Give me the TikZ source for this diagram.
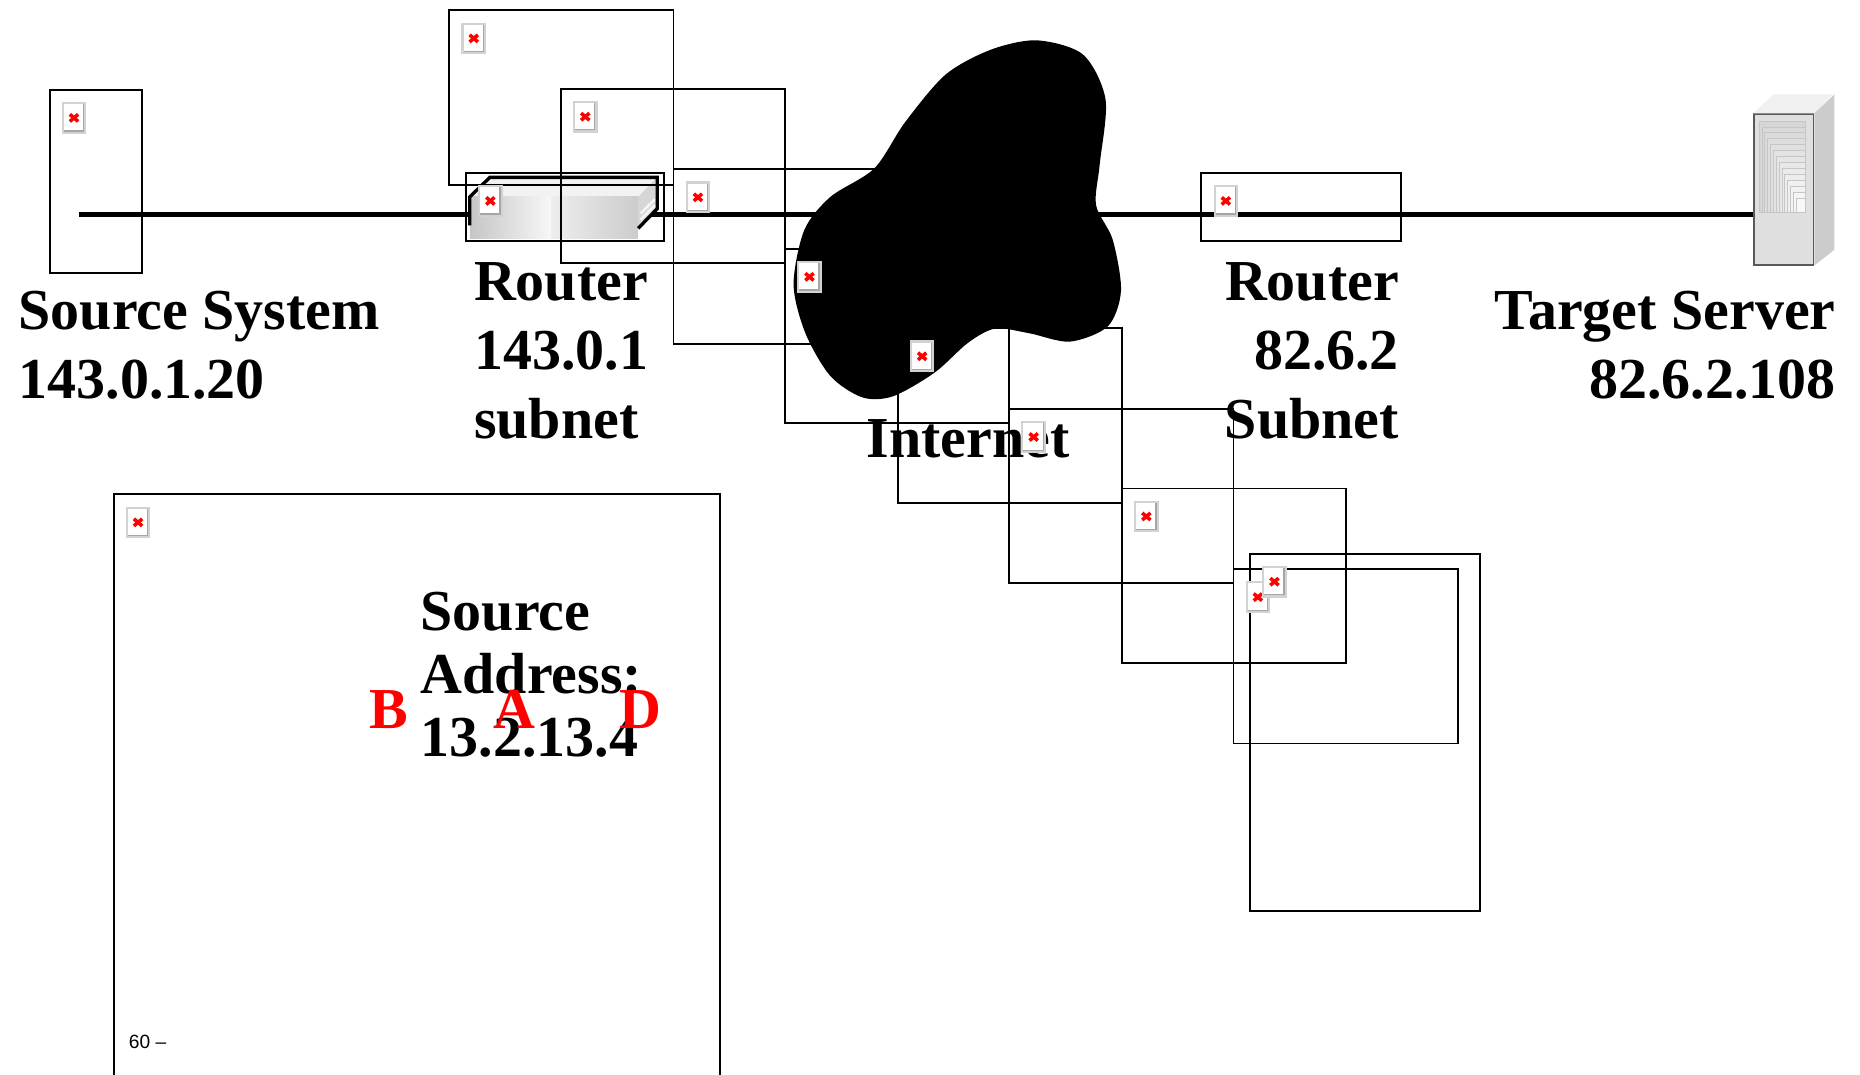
\documentclass[tikz,border=0pt]{standalone}
\usepackage{fontspec}
\setmainfont{Liberation Serif}
\setsansfont{Liberation Sans}
\usetikzlibrary{shapes,arrows}

\tikzset{
  slot/.style={draw, line width=0.45pt, anchor=north west, inner sep=0pt,
    minimum width=1.89cm, minimum height=1.47cm},
  noimg/.style={anchor=north west, inner sep=0pt, minimum width=0.19cm,
    minimum height=0.25cm, fill=white, draw=gray!35, line width=0.5pt,
    path picture={
      \draw[gray!70, line width=1.1pt] (path picture bounding box.north east)
        -- (path picture bounding box.south east) -- (path picture bounding box.south west);
      \draw[red, line width=0.85pt]
        ([shift={(-0.035,-0.03)}]path picture bounding box.center) -- ([shift={(0.035,0.03)}]path picture bounding box.center)
        ([shift={(-0.035,0.03)}]path picture bounding box.center) -- ([shift={(0.035,-0.03)}]path picture bounding box.center);
    }},
  lbl/.style={font=\fontsize{13.9}{16.6}\selectfont\bfseries, inner sep=0pt},
}

\begin{document}
\begin{tikzpicture}[y=-1cm]
\useasboundingbox (0,0) rectangle (15.68,9.06);

\node[draw=gray!70!black, fill=gray!25, line width=0.4pt, anchor=north west, inner sep=0pt,
  minimum width=0.50cm, minimum height=1.27cm] (server) at (14.78,0.955) {};
\fill[gray!12] (server.north west) -- ++(0.17,-0.16) -- ++(0.50,0) -- (server.north east) -- cycle;
\fill[gray!40] (server.north east) -- ++(0.17,-0.16) -- ++(0,1.31) -- (server.south east) -- cycle;
\foreach \i [evaluate=\i as \g using {int(32-2*\i)}] in {0,...,13}
  \filldraw[fill=gray!\g, draw=gray!45, line width=0.2pt]
    (14.83+0.024*\i, 1.02+0.05*\i) rectangle (15.22, 1.79);

\coordinate (lan) at (0.67,1.81);
\draw[line width=1.2pt] (lan) -- (lan -| server.west);

\fill[gray!10] (3.96,1.66) -- (4.13,1.495) -- (5.54,1.495) -- (5.38,1.66) -- cycle;
\shade[left color=gray!45, right color=gray!6] (3.96,1.66) rectangle (4.65,2.01);
\shade[left color=gray!14, right color=gray!40] (4.65,1.66) rectangle (5.38,2.01);
\fill[gray!32] (5.38,1.66) -- (5.54,1.495) -- (5.54,1.76) -- (5.38,1.925) -- cycle;
\draw[gray!8, line width=0.6pt] (5.40,1.80) -- (5.52,1.68) (5.40,1.85) -- (5.52,1.73);
\draw[line width=0.8pt] (3.96,1.90) -- (3.96,1.66) -- (4.13,1.495) -- (5.54,1.495) -- (5.54,1.76) -- (5.38,1.925);

\node[slot, minimum width=0.78cm, minimum height=1.54cm] (source) at (0.41,0.75) {};
\node[slot, minimum width=1.67cm, minimum height=0.57cm] (router143) at (3.92,1.45) {};
\node[slot, minimum width=1.68cm, minimum height=0.57cm] (router82) at (10.12,1.45) {};
\node[slot] (box1) at (3.78,0.08) {};
\node[slot] (box2) at (4.72,0.74) {};
\node[slot] (box3) at (5.67,1.42) {};
\node[slot] (box4) at (6.61,2.09) {};
\node[slot] (box5) at (7.56,2.76) {};
\node[slot] (box6) at (8.50,3.44) {};
\node[slot] (box7) at (9.45,4.11) {};
\node[slot] (box8) at (10.39,4.79) {};
\node[slot, minimum width=1.94cm, minimum height=3.01cm] (box9) at (10.53,4.66) {};
\node[slot, minimum width=5.11cm, minimum height=5.2cm] (panel) at (0.95,4.16) {};

\fill plot[smooth cycle] coordinates {(8.74,0.34) (9.13,0.46) (9.32,0.84) (9.27,1.39)
  (9.24,1.73) (9.38,2.02) (9.45,2.45) (9.34,2.75) (9.02,2.88) (8.68,2.81) (8.39,2.77)
  (8.16,2.89) (7.88,3.14) (7.53,3.34) (7.27,3.35) (7.00,3.17) (6.79,2.81) (6.69,2.40)
  (6.78,1.94) (7.00,1.66) (7.37,1.42) (7.63,1.03) (7.97,0.63) (8.35,0.42)};

\node[lbl, align=left, anchor=base west] (srclbl) at (0.15,3.36) {Source System\\143.0.1.20};
\node[lbl, align=left, anchor=base west] (r143lbl) at (3.99,3.70) {Router\\143.0.1\\subnet};
\node[lbl, anchor=base west] (internet) at (7.30,3.86) {Internet};
\node[lbl, align=right, anchor=base east] (r82lbl) at (11.80,3.70) {Router\\82.6.2\\Subnet};
\node[lbl, align=right, anchor=base east] (srvlbl) at (15.48,3.36) {Target Server\\82.6.2.108};
\node[lbl, font=\fontsize{13.9}{15.2}\selectfont\bfseries, align=left, anchor=base west]
  (addr) at (3.54,6.38) {Source\\Address:\\13.2.13.4};
\node[lbl, text=red, anchor=base] (B) at (3.28,6.14) {B};
\node[lbl, text=red, anchor=base] (A) at (4.34,6.14) {A};
\node[lbl, text=red, anchor=base] (D) at (5.40,6.14) {D};
\node[font=\fontsize{4.6}{5}\selectfont\sffamily, inner sep=0pt, anchor=base west] (page) at (1.08,8.84) {60 \textendash};

\node[noimg] (img0) at (0.52,0.86) {};
\node[noimg] (img1) at (3.89,0.19) {};
\node[noimg] (img2) at (4.83,0.85) {};
\node[noimg] (img3) at (4.03,1.56) {};
\node[noimg] (img4) at (5.78,1.53) {};
\node[noimg] (img5) at (6.72,2.20) {};
\node[noimg] (img6) at (7.67,2.87) {};
\node[noimg] (img7) at (8.61,3.55) {};
\node[noimg] (img8) at (9.56,4.22) {};
\node[noimg] (img9) at (10.50,4.90) {};
\node[noimg] (img10) at (10.64,4.77) {};
\node[noimg] (img11) at (10.23,1.56) {};
\node[noimg] (img12) at (1.06,4.27) {};
\end{tikzpicture}
\end{document}
